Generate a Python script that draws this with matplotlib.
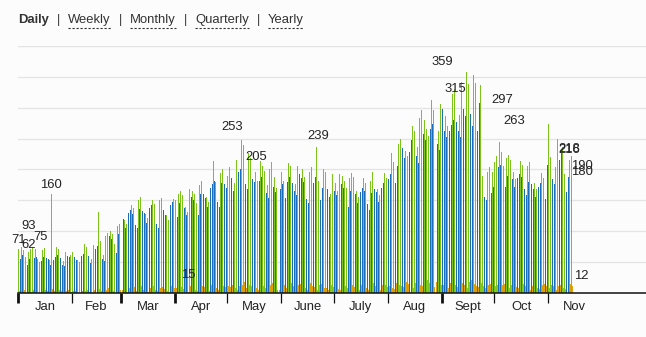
import numpy as np
import matplotlib
matplotlib.use("Agg")
import matplotlib.pyplot as plt
from matplotlib.lines import Line2D

plt.rcParams["font.family"] = ["Liberation Sans", "DejaVu Sans"]

W, H = 646, 337
BG = "#fcfcfc"
GREEN = "#7cc41a"
BLUE = "#1a6dbb"
ORANGE = "#e2a20a"
TEXT = "#222222"

MONTHS = ["Jan", "Feb", "Mar", "Apr", "May", "June", "July", "Aug", "Sept", "Oct", "Nov"]
MONTH_DAYS = [31, 28, 31, 30, 31, 30, 31, 31, 30, 31, 30]
THICK_MONTHS = ["Jan", "Mar", "Apr", "Sept"]
PERIODS = ["Daily", "Weekly", "Monthly", "Quarterly", "Yearly"]

# daily values, one list per month
G_jan = [71, 68, 74, 70, 58, 52, 66, 72, 75, 69, 71, 55, 50, 63, 70, 73, 68, 66, 54, 160, 65, 70, 74, 72, 68, 55, 52, 67, 71, 69, 62]
G_feb = [66, 70, 64, 54, 50, 72, 76, 80, 75, 70, 58, 56, 78, 84, 90, 131, 85, 66, 62, 92, 98, 104, 100, 96, 80, 76, 108, 112]
G_mar = [140, 135, 118, 112, 145, 150, 142, 138, 124, 120, 150, 155, 148, 145, 128, 122, 152, 158, 150, 144, 128, 120, 150, 154, 148, 140, 126, 118, 156, 160, 152]
G_apr = [150, 138, 160, 165, 158, 152, 140, 132, 168, 172, 165, 160, 146, 140, 175, 182, 176, 170, 155, 148, 186, 192, 214, 180, 162, 155, 195, 200, 192, 186]
G_may = [190, 204, 212, 186, 178, 215, 220, 232, 247, 240, 200, 192, 226, 218, 210, 205, 196, 182, 210, 214, 205, 198, 184, 175, 200, 212, 196, 188, 170, 162, 190]
G_jun = [196, 182, 172, 200, 210, 205, 198, 186, 176, 206, 214, 208, 200, 188, 170, 162, 196, 204, 198, 212, 237, 182, 168, 190, 200, 196, 188, 174, 160, 192]
G_jul = [188, 178, 166, 192, 196, 190, 182, 170, 160, 186, 194, 188, 180, 166, 156, 184, 190, 186, 178, 164, 154, 182, 196, 188, 184, 168, 158, 190, 200, 194, 186]
G_aug = [206, 214, 226, 212, 200, 232, 242, 250, 262, 244, 230, 222, 256, 280, 270, 262, 250, 236, 284, 296, 290, 280, 266, 254, 300, 312, 296, 288, 272, 262, 306]
G_sep = [359, 300, 286, 270, 296, 310, 322, 330, 316, 300, 288, 342, 361, 350, 358, 338, 344, 320, 352, 340, 300, 344, 336, 190, 178, 170, 196, 204, 184, 196]
G_oct = [212, 222, 240, 244, 228, 206, 198, 218, 224, 216, 210, 196, 184, 212, 220, 214, 208, 192, 180, 206, 212, 200, 192, 178, 168, 196, 202, 194, 186, 172, 246]
G_nov = [274, 220, 208, 198, 204, 250, 258, 266, 236, 192, 184, 210, 215, 222]

B_jan = [60, 55, 62, 58, 48, 45, 56, 60, 62, 57, 59, 47, 42, 52, 58, 61, 57, 55, 46, 60, 54, 59, 62, 60, 57, 46, 44, 56, 60, 58, 52]
B_feb = [56, 58, 54, 45, 42, 60, 64, 66, 63, 60, 49, 47, 66, 72, 76, 82, 72, 56, 52, 80, 86, 92, 88, 84, 68, 65, 96, 100]
B_mar = [124, 120, 105, 100, 130, 134, 128, 124, 110, 106, 136, 140, 133, 130, 114, 108, 138, 142, 135, 128, 112, 106, 136, 140, 134, 126, 110, 104, 142, 148, 140]
B_apr = [136, 124, 146, 150, 144, 138, 126, 118, 152, 156, 150, 146, 132, 126, 160, 166, 160, 154, 140, 134, 170, 176, 182, 165, 148, 140, 178, 184, 176, 170]
B_may = [170, 182, 186, 166, 158, 190, 196, 200, 204, 198, 176, 168, 196, 190, 184, 180, 174, 207, 182, 188, 180, 174, 162, 154, 176, 186, 172, 164, 150, 144, 168]
B_jun = [176, 164, 154, 180, 188, 184, 178, 166, 158, 184, 192, 186, 180, 168, 152, 146, 176, 182, 178, 188, 192, 164, 150, 170, 180, 176, 168, 156, 144, 172]
B_jul = [166, 158, 146, 170, 176, 170, 162, 150, 140, 166, 172, 168, 160, 146, 136, 164, 170, 166, 158, 144, 134, 162, 176, 168, 164, 148, 138, 170, 178, 174, 166]
B_aug = [184, 192, 202, 190, 178, 206, 216, 222, 234, 218, 204, 196, 228, 248, 240, 232, 222, 210, 252, 262, 258, 248, 236, 226, 266, 274, 262, 256, 242, 232, 272]
B_sep = [298, 262, 252, 240, 262, 272, 280, 286, 276, 262, 252, 290, 298, 286, 296, 282, 290, 270, 295, 284, 262, 307, 280, 166, 156, 150, 172, 178, 162, 172]
B_oct = [188, 196, 204, 208, 196, 180, 172, 190, 196, 190, 184, 172, 162, 186, 192, 188, 182, 168, 158, 180, 186, 176, 168, 156, 148, 172, 178, 170, 164, 152, 208]
B_nov = [222, 194, 184, 176, 180, 214, 216, 226, 202, 170, 164, 188, 192, 196]

O_jan = [3, 2, 4, 5, 1, 0, 3, 2, 6, 4, 3, 1, 0, 4, 3, 5, 4, 2, 1, 7, 3, 4, 2, 5, 3, 1, 0, 4, 6, 3, 2]
O_feb = [4, 3, 5, 1, 0, 4, 6, 3, 5, 2, 1, 0, 5, 4, 6, 7, 3, 1, 2, 5, 8, 6, 4, 3, 1, 2, 7, 6]
O_mar = [6, 8, 3, 2, 9, 7, 5, 10, 4, 2, 8, 11, 6, 5, 3, 2, 9, 7, 12, 6, 3, 2, 8, 10, 7, 5, 3, 2, 11, 13, 8]
O_apr = [9, 4, 12, 10, 7, 8, 3, 2, 11, 14, 9, 6, 4, 3, 15, 12, 10, 8, 5, 3, 13, 16, 11, 9, 6, 4, 14, 12, 10, 8]
O_may = [12, 10, 14, 16, 8, 6, 12, 15, 13, 18, 9, 7, 14, 12, 10, 13, 8, 6, 12, 15, 11, 9, 7, 5, 13, 16, 11, 9, 6, 5, 12]
O_jun = [10, 14, 8, 6, 12, 16, 11, 9, 7, 13, 15, 12, 10, 8, 6, 14, 16, 12, 10, 7, 5, 13, 15, 11, 9, 8, 6, 12, 14, 10]
O_jul = [9, 12, 7, 5, 13, 15, 11, 8, 6, 12, 14, 10, 9, 7, 5, 13, 15, 11, 9, 6, 4, 12, 16, 12, 10, 7, 5, 14, 17, 13, 10]
O_aug = [12, 15, 9, 7, 16, 18, 14, 12, 10, 17, 19, 15, 13, 10, 8, 16, 20, 16, 14, 11, 9, 18, 21, 17, 15, 12, 10, 19, 22, 16, 13]
O_sep = [14, 18, 12, 9, 17, 20, 15, 13, 10, 18, 21, 17, 14, 11, 9, 19, 22, 18, 15, 12, 10, 20, 17, 12, 9, 7, 13, 15, 11, 10]
O_oct = [11, 14, 9, 7, 13, 15, 12, 10, 8, 14, 16, 12, 10, 8, 6, 13, 15, 11, 9, 7, 5, 12, 14, 11, 9, 7, 5, 13, 15, 11, 10]
O_nov = [9, 13, 11, 8, 6, 12, 14, 10, 9, 7, 5, 13, 15, 12]

# weekly value labels (day of year, value)
LABEL_DAYS = [0.3, 6, 6, 13, 19, 97.5, 123, 136.5, 172, 243, 250.5, 277.5, 284.5, 316, 316, 323, 323, 323]
LABEL_VALUES = [71, 93, 62, 75, 160, 15, 253, 205, 239, 359, 315, 297, 263, 218, 216, 190, 180, 12]

GREEN_DAYS = G_jan + G_feb + G_mar + G_apr + G_may + G_jun + G_jul + G_aug + G_sep + G_oct + G_nov
BLUE_DAYS = B_jan + B_feb + B_mar + B_apr + B_may + B_jun + B_jul + B_aug + B_sep + B_oct + B_nov
ORANGE_DAYS = O_jan + O_feb + O_mar + O_apr + O_may + O_jun + O_jul + O_aug + O_sep + O_oct + O_nov


def draw_header(fig):
    renderer = fig.canvas.get_renderer()
    x = 18
    y = 1 - 20 / H
    for i, name in enumerate(PERIODS):
        t = fig.text(x / W, y, name, fontsize=9.4, color="#333333", va="center",
                     fontweight="bold" if i == 0 else "normal")
        bb = t.get_window_extent(renderer)
        if i > 0:
            # dashed underline for the inactive options
            uy = 1 - 27.5 / H
            fig.add_artist(Line2D([bb.x0 / W, bb.x1 / W], [uy, uy], color="#333333",
                                  lw=0.8, ls=(0, (2, 1.6))))
        x = bb.x1 + 8
        if i < len(PERIODS) - 1:
            p = fig.text(x / W, y, "|", fontsize=9.4, color="#333333", va="center")
            x = p.get_window_extent(renderer).x1 + 8


def main():
    fig = plt.figure(figsize=(W / 100, H / 100), dpi=100, facecolor=BG)
    ax = fig.add_axes([18 / W, 43.7 / H, 1 - 18 / W, (293.3 - 45.7) / H])
    ax.set_facecolor(BG)

    step = 1 / 3
    sub = 0.33
    g = np.array(GREEN_DAYS)
    b = np.array(BLUE_DAYS)
    o = np.array(ORANGE_DAYS)
    ax.bar(np.arange(len(g)), g, width=sub, align="edge", color=GREEN, lw=0)
    ax.bar(np.arange(len(b)) + step, b, width=sub, align="edge", color=BLUE, lw=0)
    ax.bar(np.arange(len(o)) + 2 * step, o, width=sub, align="edge", color=ORANGE, lw=0)

    for d, v in zip(LABEL_DAYS, LABEL_VALUES):
        ax.annotate(str(v), (d, v), xytext=(0, 6.8), textcoords="offset points",
                    ha="center", va="center", fontsize=9.4, color=TEXT, annotation_clip=False)

    ax.set_xlim(0, 360)
    ax.set_ylim(0, 400)

    ax.set_yticks(np.arange(50, 401, 50))
    ax.yaxis.grid(True, color="#e4e4e4", lw=0.9)
    ax.set_axisbelow(True)
    ax.tick_params(axis="y", length=0, labelleft=False)
    ax.axhline(400, color="#e4e4e4", lw=1.6, zorder=0)

    starts = np.concatenate([[0], np.cumsum(MONTH_DAYS)[:-1]])
    ax.set_xticks(starts)
    ax.set_xticklabels([])
    ax.tick_params(axis="x", which="major", length=7.5, width=0.9, color="#111111", direction="out")
    for tick, m in zip(ax.xaxis.get_major_ticks(), MONTHS):
        if m in THICK_MONTHS:
            tick.tick1line.set_markeredgewidth(2.0)
    ax.set_xticks(starts + np.array(MONTH_DAYS) / 2, minor=True)
    ax.set_xticklabels(MONTHS, minor=True, fontsize=9.4, color=TEXT)
    ax.tick_params(axis="x", which="minor", length=0, pad=5.5)

    for s in ["left", "right", "top"]:
        ax.spines[s].set_visible(False)
    ax.spines["bottom"].set_color("#111111")
    ax.spines["bottom"].set_linewidth(1.1)

    draw_header(fig)
    fig.savefig("out.png", dpi=100, facecolor=BG)


if __name__ == "__main__":
    main()
